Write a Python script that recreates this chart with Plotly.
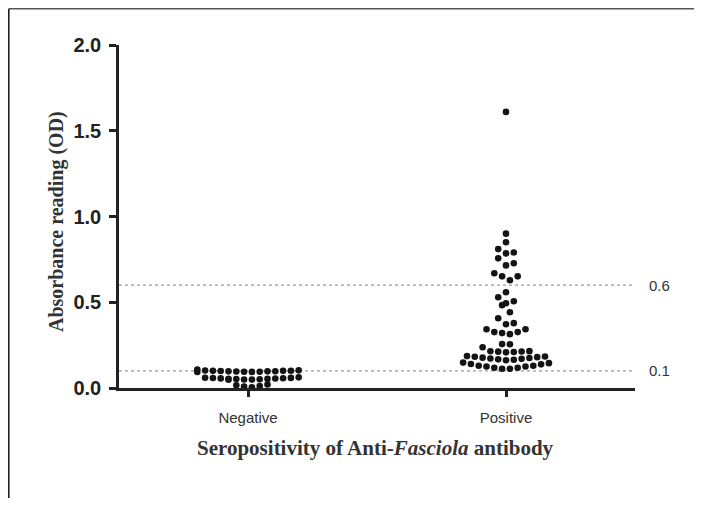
import plotly.graph_objects as go

# ---------------- data ----------------
categories = ["Negative", "Positive"]

negative_od = [
    0.004, 0.008, 0.012, 0.016, 0.02,
    0.048, 0.049, 0.05, 0.051, 0.052, 0.053, 0.054, 0.055, 0.056,
    0.057, 0.058, 0.059, 0.06, 0.062,
    0.093, 0.094, 0.095, 0.095, 0.096, 0.097, 0.097, 0.098, 0.099, 0.1,
    0.1, 0.101, 0.102, 0.103, 0.108,
]

positive_od = [
    0.112, 0.112, 0.118, 0.118, 0.125, 0.125, 0.13, 0.13, 0.138, 0.14, 0.145, 0.148,
    0.162, 0.165, 0.167, 0.17, 0.172, 0.175, 0.177, 0.18, 0.182, 0.184, 0.186,
    0.208, 0.21, 0.212, 0.213, 0.214, 0.215, 0.238,
    0.255, 0.256, 0.314, 0.32, 0.326, 0.326, 0.343, 0.343, 0.372, 0.378,
    0.407, 0.442, 0.483, 0.494, 0.506, 0.529, 0.558, 0.628, 0.651, 0.651,
    0.669, 0.715, 0.727, 0.756, 0.785, 0.79, 0.81, 0.85, 0.90, 1.61,
]

cutoff_values = [0.6, 0.1]
cutoff_labels = ["0.6", "0.1"]
y_tick_values = [0.0, 0.5, 1.0, 1.5, 2.0]

# ---------------- geometry ----------------
# the page body adds an 8px margin on every side, so the figure is made
# 16px smaller than the window to avoid scrollbars
W, H = 686, 490
L, R, T, B = 111, 59, 37, 110
plot_w = W - L - R
plot_h = H - T - B
x_range = [-0.5, 1.5]
y_range = [0.0, 2.0]
px_per_x = plot_w / (x_range[1] - x_range[0])
DOT = 6.6            # marker diameter (px)
SPACING = 7.8        # horizontal distance between neighbouring dots (px)
ROW_HEIGHT = 0.045   # value span grouped into one row of dots


def px_to_paper_x(px):
    return (px - L) / plot_w


def px_to_paper_y(py):
    return (H - B - py) / plot_h


def row_offsets(values):
    """GraphPad-style scatter: group values into rows, centre each row."""
    order = sorted(range(len(values)), key=lambda i: values[i])
    offsets = [0.0] * len(values)
    k = 0
    while k < len(order):
        start = values[order[k]]
        row = [order[k]]
        k += 1
        while k < len(order) and values[order[k]] < start + ROW_HEIGHT:
            row.append(order[k])
            k += 1
        n = len(row)
        slots = [(j - (n - 1) / 2) for j in range(n)]
        slots.sort(key=lambda s: (abs(s), -s))
        for idx, s in zip(row, slots):
            offsets[idx] = s * SPACING / px_per_x
    return offsets


fig = go.Figure()
for gi, vals in enumerate([negative_od, positive_od]):
    offs = row_offsets(vals)
    fig.add_trace(go.Scatter(
        x=[gi + o for o in offs], y=vals, mode="markers",
        marker=dict(size=DOT, color="#141414", line=dict(width=0)),
        cliponaxis=False, showlegend=False, hoverinfo="y",
    ))

shapes = []
for v in cutoff_values:
    shapes.append(dict(type="line", xref="paper", yref="y", x0=0, x1=1, y0=v, y1=v,
                       line=dict(color="#9a9a9a", width=1.2, dash="dot"), layer="below"))
# thin frame (top and left edges of the original figure)
shapes.append(dict(type="line", xref="paper", yref="paper",
                   x0=px_to_paper_x(0.8), x1=px_to_paper_x(W),
                   y0=px_to_paper_y(0.8), y1=px_to_paper_y(0.8),
                   line=dict(color="#555555", width=1.4)))
shapes.append(dict(type="line", xref="paper", yref="paper",
                   x0=px_to_paper_x(0.8), x1=px_to_paper_x(0.8),
                   y0=px_to_paper_y(0.8), y1=px_to_paper_y(H),
                   line=dict(color="#222222", width=1.6)))

annotations = []
for v, lab in zip(cutoff_values, cutoff_labels):
    annotations.append(dict(xref="paper", yref="y", x=1, y=v, xshift=12,
                            xanchor="left", yanchor="middle", showarrow=False, text=lab,
                            font=dict(family="Liberation Sans, Arial", size=15, color="#333333")))
annotations.append(dict(xref="paper", yref="paper", x=px_to_paper_x(367), y=px_to_paper_y(440),
                        xanchor="center", yanchor="middle", showarrow=False,
                        text="<b>Seropositivity of Anti-<i>Fasciola</i> antibody</b>",
                        font=dict(family="Liberation Serif, Times New Roman", size=21, color="#333333")))
annotations.append(dict(xref="paper", yref="paper", x=px_to_paper_x(48), y=px_to_paper_y(214),
                        xanchor="center", yanchor="middle", showarrow=False, textangle=-90,
                        text="<b>Absorbance reading (OD)</b>",
                        font=dict(family="Liberation Serif, Times New Roman", size=20, color="#333333")))

fig.update_layout(
    width=W, height=H,
    margin=dict(l=L, r=R, t=T, b=B, pad=0),
    paper_bgcolor="white", plot_bgcolor="white",
    shapes=shapes, annotations=annotations,
    xaxis=dict(range=x_range, tickmode="array", tickvals=[0, 1], ticktext=categories,
               showline=True, linecolor="#222222", linewidth=2.5,
               ticks="outside", ticklen=6, tickwidth=2.5, tickcolor="#222222",
               showgrid=False, zeroline=False, ticklabelstandoff=8,
               tickfont=dict(family="Liberation Sans, Arial", size=15, color="#333333")),
    yaxis=dict(range=y_range, tickmode="array", tickvals=y_tick_values, tickformat=".1f",
               showline=True, linecolor="#222222", linewidth=2.5,
               ticks="outside", ticklen=7, tickwidth=2.5, tickcolor="#222222",
               showgrid=False, zeroline=False, ticklabelstandoff=4,
               tickfont=dict(family="Liberation Sans, Arial", size=20, color="#222222", weight=700)),
)

fig.write_html("out.html", config={"displayModeBar": False})
